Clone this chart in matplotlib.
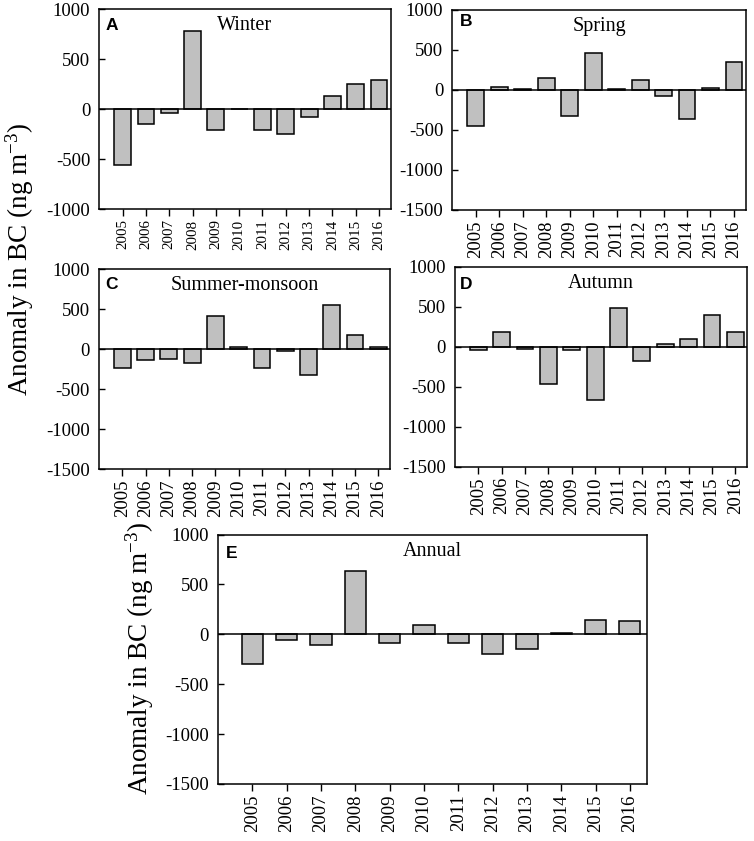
import matplotlib
matplotlib.use("Agg")
import matplotlib.pyplot as plt
import numpy as np

years = ["2005", "2006", "2007", "2008", "2009", "2010",
         "2011", "2012", "2013", "2014", "2015", "2016"]

winter = [-555, -150, -35, 780, -213, 0, -207, -250, -77, 127, 253, 287]
spring = [-445, 42, 17, 150, -325, 458, 15, 130, -79, -362, 20, 350]
summer = [-233, -142, -129, -171, 417, 20, -233, -20, -325, 550, 179, 20]
autumn = [-42, 183, -33, -462, -42, -671, 479, -179, 29, 100, 400, 183]
annual = [-300, -60, -107, 630, -83, 93, -83, -193, -147, 17, 143, 130]

panel_letters = ["A", "B", "C", "D", "E"]
panel_titles = ["Winter", "Spring", "Summer-monsoon", "Autumn", "Annual"]

plt.rcParams['font.family'] = ['Liberation Serif', 'DejaVu Serif']
plt.rcParams['axes.unicode_minus'] = False
plt.rcParams['mathtext.fontset'] = 'custom'
plt.rcParams['mathtext.rm'] = 'Liberation Serif'
plt.rcParams['mathtext.it'] = 'Liberation Serif:italic'
plt.rcParams['mathtext.bf'] = 'Liberation Serif:bold'

W, H = 754, 841
fig = plt.figure(figsize=(W / 100, H / 100), dpi=100)

# panel boxes in pixels: left, right, top, bottom
boxes = [
    (99.3, 390.7, 9, 209),
    (452.3, 745.7, 10, 210),
    (99, 390, 269, 469),
    (455, 747, 266.7, 466.7),
    (218, 647, 534.5, 784),
]
ylims = [(-1000, 1000), (-1500, 1000), (-1500, 1000), (-1500, 1000), (-1500, 1000)]
xfs = [10.8, 13.5, 13.5, 13.5, 13.5]
barw = [0.72, 0.72, 0.72, 0.72, 0.62]
letter_dx = [6, 8, 6, 5, 8]
letter_dy = [9, 4, 8, 10, 12]
title_base = 21.5
data = [winter, spring, summer, autumn, annual]

x = np.arange(len(years))
for i, (l, r, t, b) in enumerate(boxes):
    ax = fig.add_axes([l / W, 1 - b / H, (r - l) / W, (b - t) / H])
    ax.bar(x, data[i], width=barw[i], color="#c0c0c0", edgecolor="black",
           linewidth=1.1, zorder=2)
    ax.axhline(0, color="black", linewidth=1.1, zorder=3)
    ax.set_xlim(-1, len(years) - 0.5)
    ax.set_ylim(*ylims[i])
    ax.set_yticks(np.arange(ylims[i][0], ylims[i][1] + 1, 500))
    ax.set_xticks(x)
    ax.set_xticklabels(years, rotation=90, fontsize=xfs[i])
    ax.tick_params(axis='y', direction='in', length=4, width=1, pad=6.5,
                   labelsize=13.5)
    ax.tick_params(axis='x', direction='out', length=5, width=1, pad=2.5)
    for s in ax.spines.values():
        s.set_linewidth(1.1)
    hpx = b - t
    wpx = r - l
    ax.text(letter_dx[i] / wpx, 1 - letter_dy[i] / hpx, panel_letters[i],
            transform=ax.transAxes, fontsize=12.5, fontweight='bold',
            family=['Liberation Sans', 'DejaVu Sans'], ha='left', va='top')
    ax.text(0.5, 1 - title_base / hpx, panel_titles[i], transform=ax.transAxes,
            fontsize=14.5, ha='center', va='baseline')

fig.text(20 / W, 1 - 259 / H, "Anomaly in BC (ng m$^{-3}$)", rotation=90,
         fontsize=19.5, ha='center', va='center')
fig.text(140 / W, 1 - 658 / H, "Anomaly in BC (ng m$^{-3}$)", rotation=90,
         fontsize=19.5, ha='center', va='center')

fig.savefig("out.png", dpi=100)
